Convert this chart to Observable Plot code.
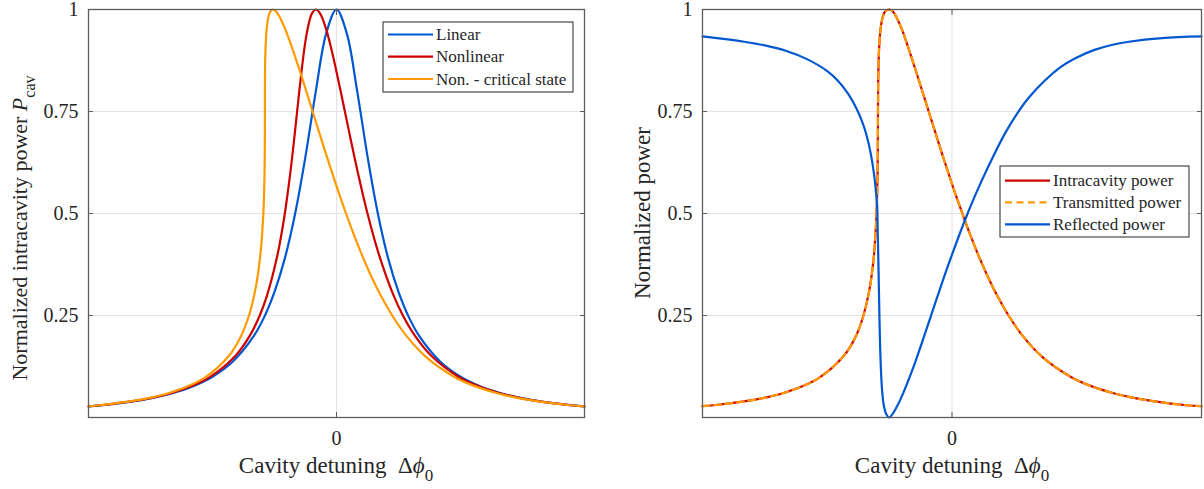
<!DOCTYPE html>
<html><head><meta charset="utf-8">
<script src="https://cdn.jsdelivr.net/npm/d3@7"></script>
<script src="https://cdn.jsdelivr.net/npm/@observablehq/plot@0.6"></script>
<style>
body{margin:0;background:#fff;}
#wrap{position:relative;width:1204px;height:489px;overflow:hidden;}
#left,#right{position:absolute;top:0;}
#left{left:0;} #right{left:600px;}
</style></head><body><div id="wrap"><div id="left"></div><div id="right"></div></div>
<script>
// ---------- data ----------
const xDomain = [-6, 6];                 // detuning, in cavity linewidths
const yTicks = [0.25, 0.5, 0.75, 1];
const yTickLabels = ["0.25", "0.5", "0.75", "1"];
const xTicks = [0];
const xTickLabels = ["0"];

// Left panel
const linearX = [-6,-5.5,-5,-4.5,-4,-3.5,-3,-2.5,-2,-1.75,-1.5,-1.25,-1,-0.75,-0.5,-0.25,0,0.25,0.5,0.75,1,1.25,1.5,1.75,2,2.5,3,3.5,4,4.5,5,5.5,6];
const linearY = [0.027,0.032,0.0385,0.047,0.0588,0.0755,0.1,0.138,0.2,0.246,0.308,0.39,0.5,0.64,0.8,0.941,1,0.941,0.8,0.64,0.5,0.39,0.308,0.246,0.2,0.138,0.1,0.0755,0.0588,0.047,0.0385,0.032,0.027];

const nonlinX = [-6,-5.701,-4.919,-4.384,-3.988,-3.431,-3.05,-2.455,-2.1,-1.857,-1.678,-1.425,-1.25,-1.117,-1.005,-0.9,-0.783,-0.704,-0.596,-0.5,-0.395,-0.246,-0.117,0.1,0.305,0.517,0.75,1.025,1.378,1.607,1.9,2.305,2.95,3.351,3.928,4.334,4.879,5.671,6];
const nonlinY = [0.027,0.03,0.04,0.05,0.06,0.08,0.1,0.15,0.2,0.25,0.3,0.4,0.5,0.6,0.7,0.8,0.9,0.95,0.99,1,0.99,0.95,0.9,0.8,0.7,0.6,0.5,0.4,0.3,0.25,0.2,0.15,0.1,0.08,0.06,0.05,0.04,0.03,0.027];

const criticalX = [-6,-5.732,-4.961,-4.436,-4.05,-3.514,-3.154,-2.611,-2.308,-2.117,-1.99,-1.902,-1.841,-1.799,-1.77,-1.7515,-1.7405,-1.735,-1.7327,-1.7324,-1.732,-1.729,-1.719,-1.692,-1.652,-1.603,-1.54,-1.461,-1.366,-1.234,-1.053,-0.889,-0.732,-0.578,-0.423,-0.267,-0.1075,0.0575,0.23,0.413,0.609,0.824,1.066,1.347,1.692,2.149,2.846,3.268,3.866,4.282,4.837,5.64,6];
const criticalY = [0.027,0.03,0.04,0.05,0.06,0.08,0.1,0.15,0.2,0.25,0.3,0.35,0.4,0.45,0.5,0.55,0.6,0.65,0.7,0.75,0.8,0.85,0.9,0.95,0.98,0.995,1,0.995,0.98,0.95,0.9,0.85,0.8,0.75,0.7,0.65,0.6,0.55,0.5,0.45,0.4,0.35,0.3,0.25,0.2,0.15,0.1,0.08,0.06,0.05,0.04,0.03,0.027];

// Right panel
const intraX = [-6,-5.732,-4.961,-4.436,-4.05,-3.514,-3.154,-2.611,-2.308,-2.13,-2.01,-1.93,-1.875,-1.84,-1.815,-1.8,-1.79,-1.785,-1.782,-1.78,-1.777,-1.77,-1.755,-1.72,-1.67,-1.61,-1.5,-1.42,-1.33,-1.2,-1.03,-0.87,-0.715,-0.56,-0.405,-0.25,-0.09,0.075,0.25,0.43,0.625,0.84,1.08,1.36,1.7,2.155,2.85,3.27,3.866,4.282,4.837,5.64,6];
const intraY = [0.028,0.03,0.04,0.05,0.06,0.08,0.1,0.15,0.2,0.25,0.3,0.35,0.4,0.45,0.5,0.55,0.6,0.65,0.7,0.75,0.8,0.85,0.9,0.95,0.98,0.995,1,0.995,0.98,0.95,0.9,0.85,0.8,0.75,0.7,0.65,0.6,0.55,0.5,0.45,0.4,0.35,0.3,0.25,0.2,0.15,0.1,0.08,0.06,0.05,0.04,0.03,0.028];
const transX = intraX;            // transmitted coincides with intracavity
const transY = intraY;
const reflX = [-6,-5.5,-5,-4.5,-4,-3.5,-3,-2.75,-2.5,-2.3,-2.15,-2.05,-1.95,-1.88,-1.83,-1.8,-1.785,-1.77,-1.755,-1.735,-1.71,-1.68,-1.64,-1.58,-1.51,-1.42,-1.3,-1.25,-0.93,-0.52,-0.11,0.375,0.69,1.005,1.295,1.586,1.83,2.215,2.627,3.015,3.426,3.838,4.25,5.05,6];
const reflY = [0.934,0.928,0.921,0.912,0.899,0.879,0.849,0.826,0.794,0.758,0.722,0.69,0.645,0.6,0.555,0.52,0.45,0.38,0.3,0.2,0.12,0.065,0.03,0.008,0,0.01,0.032,0.042,0.123,0.245,0.368,0.5,0.575,0.643,0.7,0.748,0.782,0.824,0.86,0.883,0.901,0.913,0.921,0.93,0.934];

const colBlue = "#0057d0", colRed = "#cc0000", colOrange = "#ff9a00";
const FONT = "Liberation Serif";
const TXT = "#262626";

const pts = (xs, ys) => xs.map((x, i) => ({x, y: ys[i]}));
const fmtY = d => yTickLabels[yTicks.indexOf(d)];
const fmtX = d => xTickLabels[xTicks.indexOf(d)];

function basePlot(width, marginLeft, marginRight, curves) {
  return Plot.plot({
    width, height: 489, marginTop: 9, marginBottom: 72, marginLeft, marginRight,
    x: {domain: xDomain}, y: {domain: [0, 1]},
    style: {fontFamily: FONT, background: "#fff", color: TXT, overflow: "visible"},
    marks: [
      Plot.gridY(yTicks, {stroke: "#e4e4e4", strokeOpacity: 1, strokeWidth: 1.2}),
      Plot.gridX(xTicks, {stroke: "#e4e4e4", strokeOpacity: 1, strokeWidth: 1.2}),
      ...curves,
      Plot.frame({stroke: "#5c5c5c", strokeWidth: 1.3}),
      Plot.axisY(yTicks, {anchor: "left", tickSize: 0, tickPadding: 10, tickFormat: fmtY, fontSize: 20, fill: TXT, label: null}),
      Plot.axisY(yTicks, {anchor: "left", tickSize: -5, tickFormat: () => "", stroke: "#5c5c5c", label: null}),
      Plot.axisY(yTicks, {anchor: "right", tickSize: -5, tickFormat: () => "", stroke: "#5c5c5c", label: null}),
      Plot.axisX(xTicks, {anchor: "bottom", tickSize: 0, tickPadding: 13, tickFormat: fmtX, fontSize: 20, fill: TXT, label: null}),
      Plot.axisX(xTicks, {anchor: "bottom", tickSize: -5, tickFormat: () => "", stroke: "#5c5c5c", label: null}),
      Plot.axisX(xTicks, {anchor: "top", tickSize: -5, tickFormat: () => "", stroke: "#5c5c5c", label: null})
    ]
  });
}

const lineOpts = (stroke, extra = {}) => ({x: "x", y: "y", stroke, strokeWidth: 2.2, curve: "catmull-rom", ...extra});

// ---------- left panel ----------
const left = basePlot(600, 88, 16, [
  Plot.line(pts(linearX, linearY), lineOpts(colBlue)),
  Plot.line(pts(nonlinX, nonlinY), lineOpts(colRed)),
  Plot.line(pts(criticalX, criticalY), lineOpts(colOrange))
]);
document.getElementById("left").appendChild(left);

// ---------- right panel ----------
const right = basePlot(604, 102, 3, [
  Plot.line(pts(intraX, intraY), lineOpts(colRed)),
  Plot.line(pts(transX, transY), lineOpts(colOrange, {strokeDasharray: "7,4.5"})),
  Plot.line(pts(reflX, reflY), lineOpts(colBlue))
]);
document.getElementById("right").appendChild(right);

// ---------- labels & legends ----------
function xLabel(svg, cx) {
  const t = d3.select(svg).append("text").attr("x", cx).attr("y", 473)
    .attr("text-anchor", "middle").attr("font-family", FONT).attr("font-size", 23).attr("fill", TXT);
  t.append("tspan").text("Cavity detuning  \u0394");
  t.append("tspan").attr("font-style", "italic").text("\u03d5");
  t.append("tspan").attr("font-size", 17).attr("dy", 8).text("0");
}
function yLabel(svg, x, cy, size, main, italic, sub) {
  const t = d3.select(svg).append("text")
    .attr("transform", `translate(${x},${cy}) rotate(-90)`)
    .attr("text-anchor", "middle").attr("font-family", FONT).attr("font-size", size).attr("fill", TXT);
  t.append("tspan").text(main);
  if (italic) {
    t.append("tspan").attr("font-style", "italic").text(italic);
    t.append("tspan").attr("font-size", 16).attr("dy", 8).text(sub);
  }
}
function legend(svg, x, y, w, h, items) {
  const g = d3.select(svg).append("g");
  g.append("rect").attr("x", x).attr("y", y).attr("width", w).attr("height", h)
    .attr("fill", "#fff").attr("stroke", "#262626").attr("stroke-width", 1);
  items.forEach(it => {
    const ly = it.y;
    g.append("line").attr("x1", x + 5).attr("x2", x + 50).attr("y1", ly).attr("y2", ly)
      .attr("stroke", it.color).attr("stroke-width", 2.2).attr("stroke-dasharray", it.dash || null);
    g.append("text").attr("x", x + 53).attr("y", ly + 5.5).attr("text-anchor", "start")
      .attr("font-family", FONT).attr("font-size", 17).attr("fill", TXT).text(it.label);
  });
}

xLabel(left, 336);
yLabel(left, 27, 228, 22, "Normalized intracavity power ", "P", "cav");
legend(left, 383, 22, 190, 70, [
  {label: "Linear", color: colBlue, y: 34.5},
  {label: "Nonlinear", color: colRed, y: 56.7},
  {label: "Non. - critical state", color: colOrange, y: 79}
]);

xLabel(right, 352);
yLabel(right, 50, 213, 23, "Normalized power");
legend(right, 400, 166, 189, 71, [
  {label: "Intracavity power", color: colRed, y: 180.7},
  {label: "Transmitted power", color: colOrange, y: 202.3, dash: "7,4.5"},
  {label: "Reflected power", color: colBlue, y: 224.3}
]);
</script></body></html>
